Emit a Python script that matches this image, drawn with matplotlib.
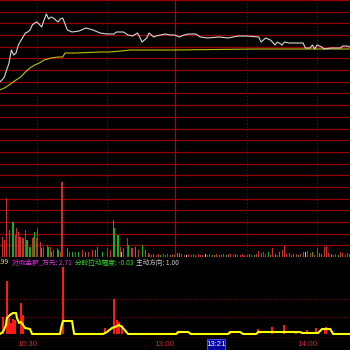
import matplotlib
matplotlib.use('Agg')
import matplotlib.pyplot as plt
from matplotlib.patches import Rectangle
import numpy as np

plt.rcParams['font.family'] = ['Noto Sans CJK SC', 'DejaVu Sans']

# ---- data (time = minutes since 9:30, lunch break removed) ----
price_t = [44, 45, 46, 47, 48, 49, 50, 51, 52, 53, 54, 55, 56, 57, 58, 59, 60, 62, 63, 64,
           65, 66, 67, 69, 70, 71, 72, 73, 74, 75, 78, 81, 84, 87, 90, 93, 94, 97, 99, 101,
           103, 104, 105, 107, 108, 110, 111, 113, 115, 117, 119, 121, 123, 125, 128, 130,
           133, 138, 142, 146, 150, 155, 156, 158, 160, 162, 163, 165, 166, 168, 170, 172,
           174, 175, 177, 178, 179, 180, 182, 183, 186, 188, 190, 191, 193, 194]
price_v = [218, 220, 223, 230, 237, 250, 245, 247, 255, 259, 263, 267, 268, 270, 275, 277, 278, 273, 280, 286,
           281, 283, 282, 278, 281, 282, 276, 270, 269, 268, 269, 272, 270, 267, 266, 266, 268, 268, 265, 264,
           267, 263, 258, 262, 267, 263, 264, 265, 266, 265, 265, 263, 265, 266, 266, 263,
           262, 263, 262, 264, 264, 263, 258, 262, 260, 255, 258, 255, 258, 257, 257, 257,
           257, 252, 252, 255, 251, 255, 253, 251, 252, 252, 252, 254, 254, 253]

avg_t = [44, 46, 48, 51, 53, 55, 57, 59, 61, 63, 66, 69, 71, 72, 77, 87, 91, 96, 100, 119, 154, 194]
avg_v = [210, 212, 215, 220, 223, 228, 232, 235, 237, 240, 242, 243, 243, 247, 247, 248, 248, 249, 250, 250, 251, 251]

vol_t = [45.4, 45.9, 47.1, 48.4, 49.3, 49.7, 50.6, 51.4, 51.9, 52.7, 54.0, 54.9, 55.7, 57.0, 57.9,
         58.3, 59.1, 60.0, 60.4, 61.3, 62.1, 62.6, 64.3, 64.7, 65.6, 66.4, 66.9, 68.6, 69.0, 69.9,
         70.7, 71.1, 72.9, 74.1, 75.0, 76.3, 77.6, 79.3, 80.6, 81.9, 83.6, 84.9, 86.1, 87.9, 90.0,
         91.3, 92.6, 93.4, 94.3, 94.7, 95.6, 96.4, 96.9, 98.6, 99.0, 100.7, 102.0, 103.3, 105.0,
         106.3, 107.6,
         108, 109, 110, 111, 112, 113, 114, 115, 116, 117, 118, 119, 120, 121, 122, 123, 124, 125,
         126, 127, 128, 129, 130, 131, 132, 133, 134, 135, 136, 137, 138, 139, 140, 141, 142, 143,
         144, 145, 146, 147, 148, 149, 150, 151, 152, 153, 154, 155, 156, 157, 158, 159, 160, 161,
         162, 163, 164, 165, 166, 167, 168, 169, 170, 171, 172, 173, 174, 175, 176, 177, 178, 179,
         180, 181, 182, 183, 184, 185, 186, 187, 188, 189, 190, 191, 192, 193, 194]
vol_v = [20, 17, 59, 27, 32, 35, 22, 29, 25, 20, 19, 27, 17, 10, 19,
         20, 25, 19, 29, 15, 9, 10, 12, 10, 10, 5, 7, 9, 7, 5,
         75, 5, 9, 5, 5, 5, 5, 7, 5, 5, 7, 7, 10, 5, 9,
         7, 37, 29, 19, 22, 10, 5, 9, 19, 12, 9, 10, 7, 12,
         7, 4,
         3, 2, 3, 2, 3, 2, 3, 2, 3, 2, 3, 2, 4, 4, 3, 2, 2, 3,
         2, 3, 2, 3, 2, 2, 3, 2, 3, 2, 2, 3, 2, 2, 3, 2, 3, 3,
         2, 3, 2, 2, 3, 2, 2, 3, 2, 2, 3, 6, 4, 5, 3, 5, 2, 9,
         3, 2, 5, 7, 11, 3, 4, 2, 3, 3, 2, 3, 5, 5, 6, 4, 5, 2,
         9, 4, 3, 10, 11, 4, 3, 2, 3, 2, 5, 4, 2, 4, 3]
vol_c = list("rrrrrgrrrrrrggr" "rgrrrgrrgrgrrgr" "rrgrgrgrgrrgggr" "rggrgrwrrgrgrg" "gr"
             "rrgrrgrrrgrrggrrwr" "rrgrrrwrrgrrrgrg" "rrrgrrrrrgrgrrrrrg" "rrgrgrrrrrgrgrrwrr"
             "grrggrrrgrrgrrr")

dd_spike_t = [45.4, 47.1, 48.0, 48.9, 49.7, 50.6, 53.1, 54.0, 71.1, 89.1, 93.0, 94.3, 95.1, 96.4,
              120.4, 142.7, 154.7, 160.7, 165.9, 171.0, 175.7, 179.6, 183.1, 183.9]
dd_spike_v = [17, 53, 16, 11, 15, 14, 31, 19, 67, 6, 35, 14, 12, 9,
              2, 2, 5, 7, 9, 2, 4, 6, 6, 7]

dd_line_t = [44.1, 45.4, 46.7, 47.1, 48.4, 49.7, 51.0, 51.4, 52.3, 53.1, 54.0, 54.9, 57.0, 57.9,
             69.9, 70.3, 71.1, 75.0, 75.9, 88.3, 90.0, 92.1, 93.4, 95.1, 96.4, 97.9, 99.0,
             119.6, 120.4, 124.7, 126.0, 141.9, 142.7, 147.0, 148.3, 153.9, 154.7, 172.7, 173.6,
             180.4, 181.3, 182.1, 185.6, 186.9, 194.1]
dd_line_v = [0, 2, 9, 16, 19, 21, 21, 16, 11, 12, 9, 6, 5, 0,
             0, 6, 13, 13, 0, 0, 2, 6, 7, 9, 7, 3, 0,
             0, 2, 2, 0, 0, 2, 2, 0, 0, 2, 2, 1,
             1, 3, 5, 5, 0, 0]

time_ticks = [60, 119, 180]
time_labels = ['10:30', '13:00', '14:00']
minor_lines = [60, 90, 150, 180]
midday_line = 119
cursor_label = '13:21'

info_texts = ['.99', '对倒金额_万元: 2.71', '分时拉动幅度: -0.03', '主动方向: 1.00']
info_colors = ['#e0e070', '#e030e0', '#30e030', '#c8c8c8']
info_x = [0, 12, 75, 136]

# ---- figure ----
W = H = 350
fig = plt.figure(figsize=(3.5, 3.5), dpi=100, facecolor='black')
XL = (44.14, 194.1)

def fy(py):
    return 1 - py / H

grid_red = '#960000'

# price + volume region (pixel rows 0..257)
ax_v = fig.add_axes([0, fy(257), 1, 257 / H])
ax_v.set_facecolor('black')
ax_v.set_xlim(*XL)
ax_v.set_ylim(0, 257)
ax_v.axis('off')
for y in np.linspace(0, 257, 23):
    ax_v.axhline(y, color=grid_red, lw=0.9, zorder=1)
for t in minor_lines:
    ax_v.axvline(t, color='#8a0000', lw=0.8, ls=(0, (1, 2)), zorder=1)
ax_v.axvline(midday_line, color='#b00000', lw=0.9, zorder=1)
cmap = {'r': '#c83030', 'g': '#18b018', 'w': '#c0c0c0'}
ax_v.bar(vol_t, vol_v, width=0.45, color=[cmap[c] for c in vol_c], align='center', zorder=2)

ax_p = fig.add_axes([0, fy(257), 1, 257 / H])
ax_p.patch.set_alpha(0)
ax_p.set_xlim(*XL)
ax_p.set_ylim(43, 300)
ax_p.axis('off')
ax_p.plot(avg_t, avg_v, color='#c0c000', lw=0.8, zorder=3)
ax_p.plot(price_t, price_v, color='#d8d8d8', lw=0.8, zorder=4)

# bottom indicator panel (pixel rows 257..338)
ax_d = fig.add_axes([0, fy(338), 1, 81 / H])
ax_d.set_facecolor('black')
ax_d.set_xlim(*XL)
ax_d.set_ylim(-4, 77)
ax_d.axis('off')
for v in (17.5, 35):
    ax_d.axhline(v, color='#8a0000', lw=0.8, ls=(0, (1, 2)), zorder=1)
ax_d.axhline(-3.6, color=grid_red, lw=1.0, zorder=1)
ax_d.bar(dd_spike_t, dd_spike_v, width=0.6, color='#ff1a1a', zorder=2)
ax_d.plot(dd_line_t, dd_line_v, color='#ffff00', lw=1.5, zorder=3)

# time axis labels
ax_t = fig.add_axes([0, 0, 1, 12 / H])
ax_t.set_facecolor('black')
ax_t.set_xlim(*XL)
ax_t.set_ylim(0, 1)
ax_t.axis('off')
for t, lab in zip(time_ticks, time_labels):
    ax_t.text(t, 0.45, lab, color='#c83030', fontsize=5.8, ha='right', va='center',
              family=['Liberation Sans', 'DejaVu Sans'])
ax_t.add_patch(Rectangle((207 / W, 0.0), 18 / W, 0.95, transform=ax_t.transAxes,
                         facecolor='#0000a0', edgecolor='#4040ff', lw=0.8))
ax_t.text(216 / W, 0.45, cursor_label, transform=ax_t.transAxes, color='white',
          fontsize=5.6, ha='center', va='center', family=['Liberation Sans', 'DejaVu Sans'])

# info row
for s, c, x in zip(info_texts, info_colors, info_x):
    fig.text(x / W, fy(262.5), s, color=c, fontsize=4.8, ha='left', va='center')

fig.savefig('out.png', dpi=100, facecolor='black')
